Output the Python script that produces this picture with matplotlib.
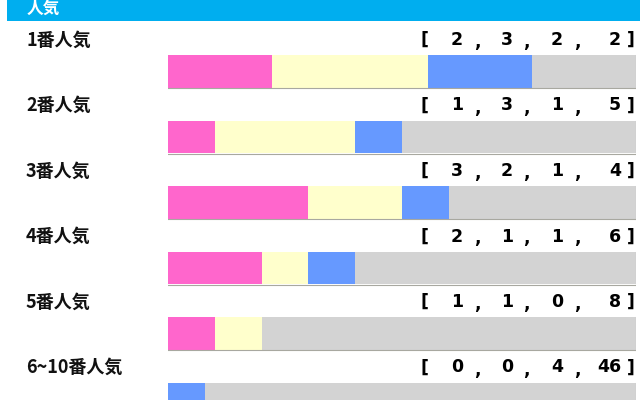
import matplotlib
matplotlib.use('Agg')
from matplotlib import pyplot as plt
import numpy as np

plt.rcParams['font.family'] = ['Noto Sans CJK JP', 'DejaVu Sans']

labels = ['1番人気', '2番人気', '3番人気', '4番人気', '5番人気', '6~10番人気']
first = [2, 1, 3, 2, 1, 0]
second = [3, 3, 2, 1, 1, 0]
third = [2, 1, 1, 1, 0, 4]
other = [2, 5, 4, 6, 8, 46]
colors = ['#ff66cc', '#ffffcc', '#6699ff', '#d3d3d3']

counts = np.array([first, second, third, other], dtype=float)
totals = counts.sum(axis=0)
fracs = counts / totals

fig = plt.figure(figsize=(6.4, 4.0), dpi=100)
ax = fig.add_axes([0, 0, 1, 1])
ax.set_xlim(0, 640)
ax.set_ylim(400, 0)
ax.axis('off')

# header
ax.add_patch(plt.Rectangle((7, -5), 640, 26, color='#00aeef', lw=0))
ax.text(27, 9, '人気', color='white', fontsize=12, fontweight='bold', va='center')

bx = fig.add_axes([168 / 640, 0, 468 / 640, 1])
bx.set_xlim(0, 1)
bx.set_ylim(400, 0)
bx.axis('off')

step = 65.5
bar_h = 32.5
for i, lab in enumerate(labels):
    top = 55 + i * step
    yc = top + bar_h / 2
    left = 0.0
    for k in range(4):
        w = fracs[k, i]
        if w > 0:
            bx.barh(yc, w, left=left, height=bar_h, color=colors[k], lw=0)
        left += w
    # thin shadow under bar
    bx.plot([0, 1], [top + bar_h + 0.5] * 2, color='#a8a8a0', lw=0.8)
    bx.plot([1, 1], [top, top + bar_h], color='#bcbcbc', lw=0.8)

    ty = top - 15
    ax.text(26, ty, lab, fontsize=13, fontweight='bold', va='center', color='#111111')
    fam = ['DejaVu Sans']
    ax.text(424, ty, '[', fontsize=12.5, fontweight='bold', va='center', ha='center', family=fam)
    ax.text(631, ty, ']', fontsize=12.5, fontweight='bold', va='center', ha='center', family=fam)
    xs = [457, 507, 557]
    for k in range(3):
        ax.text(xs[k], ty, str(int(counts[k, i])), fontsize=12.5, fontweight='bold',
                va='center', ha='center', family=fam)
    ax.text(621, ty, str(int(counts[3, i])), fontsize=12.5, fontweight='bold',
            va='center', ha='right', family=fam)
    for cx in [477, 526, 577]:
        ax.text(cx, ty + 2, ',', fontsize=12.5, fontweight='bold', va='center', ha='center', family=fam)

fig.savefig('out.png', dpi=100)
